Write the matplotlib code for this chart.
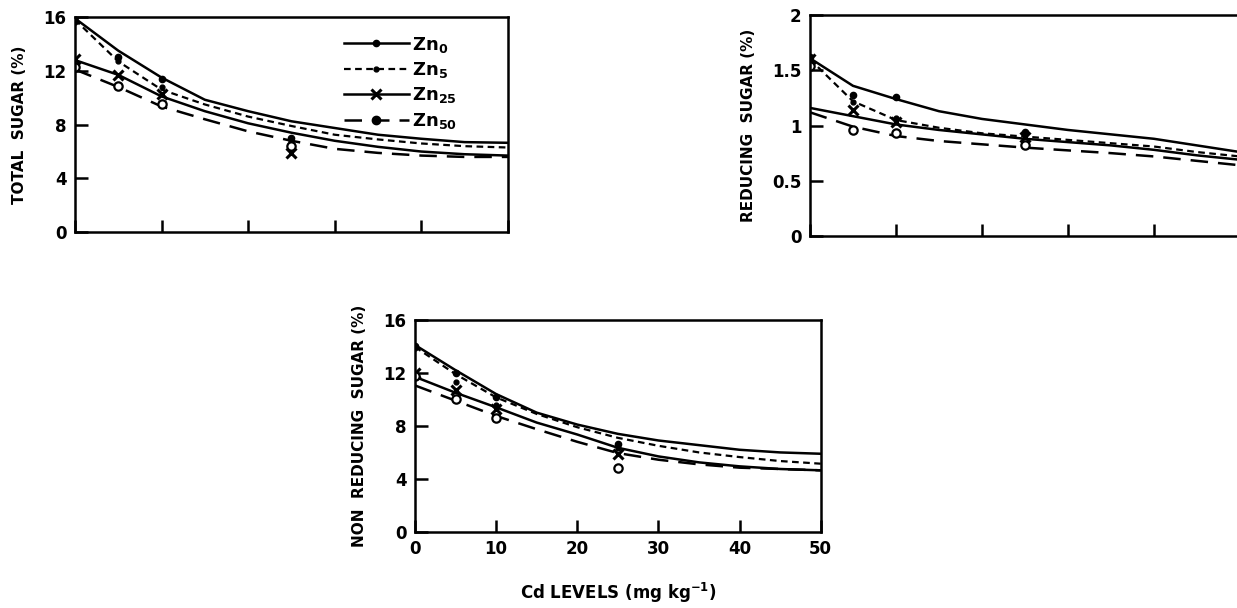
import matplotlib
matplotlib.use("Agg")
import matplotlib.pyplot as plt
from matplotlib.lines import Line2D

plt.rcParams['font.family'] = ['DejaVu Sans']
plt.rcParams['font.weight'] = 'bold'

# ---------------- data ----------------
series = ["Zn$_{0}$", "Zn$_{5}$", "Zn$_{25}$", "Zn$_{50}$"]
x_curve = [0, 5, 10, 15, 20, 25, 30, 35, 40, 45, 50]
x_pts = [0, 5, 10, 25]

# Total sugar (%)
ts_zn0 = [15.9, 13.5, 11.5, 9.85, 9.0, 8.25, 7.75, 7.25, 6.95, 6.7, 6.65]
ts_zn5 = [15.8, 12.7, 10.6, 9.5, 8.6, 7.9, 7.25, 6.9, 6.6, 6.4, 6.3]
ts_zn25 = [12.8, 11.7, 10.1, 9.0, 8.1, 7.4, 6.8, 6.35, 6.0, 5.8, 5.7]
ts_zn50 = [12.1, 10.8, 9.35, 8.4, 7.5, 6.8, 6.2, 5.9, 5.7, 5.6, 5.6]
ts_pts_zn0 = [16.0, 13.0, 11.4, 7.0]
ts_pts_zn5 = [15.6, 12.7, 10.8, 6.8]
ts_pts_zn25 = [12.9, 11.7, 10.3, 5.9]
ts_pts_zn50 = [12.3, 10.9, 9.5, 6.4]

# Reducing sugar (%)
rs_zn0 = [1.61, 1.36, 1.24, 1.13, 1.06, 1.01, 0.96, 0.92, 0.88, 0.82, 0.76]
rs_zn5 = [1.60, 1.22, 1.05, 0.98, 0.93, 0.90, 0.87, 0.84, 0.81, 0.76, 0.72]
rs_zn25 = [1.16, 1.085, 1.01, 0.96, 0.92, 0.88, 0.85, 0.82, 0.78, 0.73, 0.69]
rs_zn50 = [1.12, 0.99, 0.905, 0.86, 0.83, 0.80, 0.775, 0.75, 0.72, 0.68, 0.64]
rs_pts_zn0 = [1.62, 1.28, 1.26, 0.94]
rs_pts_zn5 = [1.58, 1.21, 1.07, 0.92]
rs_pts_zn25 = [1.60, 1.14, 1.03, 0.90]
rs_pts_zn50 = [1.54, 0.96, 0.93, 0.82]

# Non reducing sugar (%)
nrs_zn0 = [14.1, 12.2, 10.4, 9.0, 8.1, 7.4, 6.9, 6.55, 6.2, 6.0, 5.9]
nrs_zn5 = [13.95, 11.9, 10.15, 8.9, 7.9, 7.1, 6.5, 6.0, 5.65, 5.35, 5.15]
nrs_zn25 = [11.7, 10.5, 9.4, 8.25, 7.35, 6.35, 5.7, 5.25, 4.95, 4.75, 4.65]
nrs_zn50 = [11.05, 9.9, 8.75, 7.75, 6.8, 5.95, 5.45, 5.1, 4.85, 4.75, 4.65]
nrs_pts_zn0 = [14.0, 12.0, 10.2, 6.6]
nrs_pts_zn5 = [13.9, 11.3, 9.6, 6.3]
nrs_pts_zn25 = [12.0, 10.7, 9.3, 5.9]
nrs_pts_zn50 = [11.8, 10.0, 8.6, 4.8]

ts_ticks = [0, 4, 8, 12, 16]
ts_ticklabels = ["0", "4", "8", "12", "16"]
rs_ticks = [0, 0.5, 1, 1.5, 2]
rs_ticklabels = ["0", "0.5", "1", "1.5", "2"]
x_ticks = [0, 10, 20, 30, 40, 50]
x_ticklabels = ["0", "10", "20", "30", "40", "50"]

# ---------------- styles ----------------
line_styles = [
    dict(ls='-', lw=1.8),
    dict(ls=(0, (3, 2)), lw=1.6),
    dict(ls='-', lw=1.8),
    dict(ls=(0, (7, 4)), lw=1.8),
]
pt_styles = [
    dict(marker='o', ms=4.5, mfc='black', mec='black'),
    dict(marker='o', ms=3.5, mfc='black', mec='black'),
    dict(marker='x', ms=7, mew=2.2, color='black'),
    dict(marker='o', ms=6, mfc='white', mec='black', mew=1.6),
]

fig = plt.figure(figsize=(12.37, 6.08), dpi=100)
ax1 = fig.add_axes([0.0606, 0.618, 0.350, 0.354])
ax2 = fig.add_axes([0.6548, 0.612, 0.3476, 0.363])
ax3 = fig.add_axes([0.3355, 0.125, 0.328, 0.349])


def draw(ax, curves, pts, ymax, yticks, yticklabels, ylabel, xlabels):
    for c, p, ls, ps in zip(curves, pts, line_styles, pt_styles):
        ax.plot(x_curve, c, color='black', **ls)
        ax.plot(x_pts, p, ls='none', **ps)
    ax.set_xlim(0, 50)
    ax.set_ylim(0, ymax)
    ax.set_yticks(yticks)
    ax.set_yticklabels(yticklabels, fontsize=12, fontweight='bold')
    ax.set_xticks(x_ticks)
    if xlabels:
        ax.set_xticklabels(x_ticklabels, fontsize=12, fontweight='bold')
    else:
        ax.set_xticklabels([])
    ax.tick_params(direction='in', length=9, width=1.8, pad=6)
    for s in ax.spines.values():
        s.set_linewidth(1.8)
    ax.set_ylabel(ylabel, fontsize=11, fontweight='bold', labelpad=12)


draw(ax1, [ts_zn0, ts_zn5, ts_zn25, ts_zn50],
     [ts_pts_zn0, ts_pts_zn5, ts_pts_zn25, ts_pts_zn50],
     16, ts_ticks, ts_ticklabels, "TOTAL  SUGAR (%)", False)
draw(ax2, [rs_zn0, rs_zn5, rs_zn25, rs_zn50],
     [rs_pts_zn0, rs_pts_zn5, rs_pts_zn25, rs_pts_zn50],
     2, rs_ticks, rs_ticklabels, "REDUCING  SUGAR (%)", False)
draw(ax3, [nrs_zn0, nrs_zn5, nrs_zn25, nrs_zn50],
     [nrs_pts_zn0, nrs_pts_zn5, nrs_pts_zn25, nrs_pts_zn50],
     16, ts_ticks, ts_ticklabels, "NON  REDUCING  SUGAR (%)", True)
ax3.set_xlabel("Cd LEVELS (mg kg$^{\\mathbf{-1}}$)", fontsize=12, fontweight='bold', labelpad=16)

# legend
leg_markers = [
    dict(marker='o', ms=4.5, mfc='black', mec='black'),
    dict(marker='o', ms=3.5, mfc='black', mec='black'),
    dict(marker='x', ms=7, mew=2.2),
    dict(marker='o', ms=6, mfc='black', mec='black'),
]
handles = [Line2D([0], [0], color='black', **ls, **lm) for ls, lm in zip(line_styles, leg_markers)]
ax1.legend(handles, series, loc='upper left', bbox_to_anchor=(0.60, 0.96),
           frameon=False, handlelength=3.6, handletextpad=0.2, labelspacing=0.3,
           prop=dict(size=13, weight='bold'), borderpad=0)

fig.savefig("out.png", dpi=100)
